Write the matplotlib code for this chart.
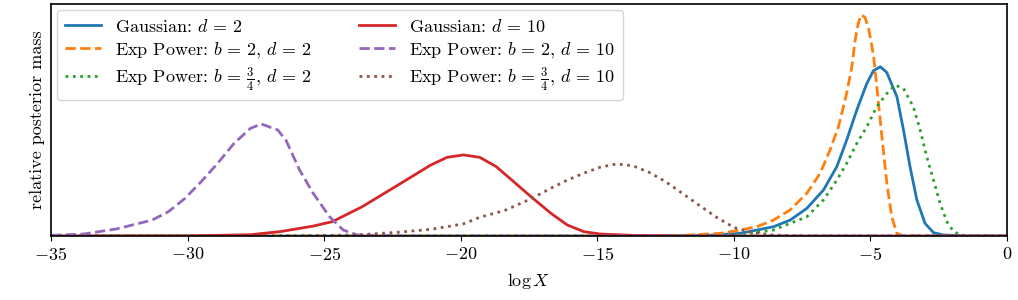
import numpy as np
import matplotlib
matplotlib.use("Agg")
from matplotlib import pyplot as plt

# Computer Modern look
plt.rcParams['font.family'] = 'serif'
plt.rcParams['font.serif'] = ['cmr10']
plt.rcParams['mathtext.fontset'] = 'cm'
plt.rcParams['axes.formatter.use_mathtext'] = True
plt.rcParams['axes.unicode_minus'] = True
plt.rcParams['axes.linewidth'] = 1.2

# values (x = log X, y = relative posterior mass)
gauss2_x = [-35, -13, -11, -9.77, -8.55, -7.94, -7.33, -6.72, -6.23, -5.87, -5.5, -5.13,
            -4.89, -4.64, -4.4, -4.03, -3.79, -3.55, -3.3, -3.0, -2.69, -2.33, -1.5, 0]
gauss2_y = [0, 0, 0.003, 0.012, 0.042, 0.072, 0.125, 0.208, 0.314, 0.434, 0.57, 0.691,
            0.748, 0.766, 0.74, 0.63, 0.48, 0.314, 0.163, 0.057, 0.015, 0.005, 0, 0]

exp2_x = [-35, -14, -12, -10.5, -9.77, -9.16, -8.55, -7.94, -7.33, -6.84, -6.48, -6.17,
          -5.87, -5.68, -5.56, -5.45, -5.35, -5.2, -5.07, -4.89, -4.77, -4.58, -4.4,
          -4.22, -4.03, -3.8, 0]
exp2_y = [0, 0, 0.002, 0.012, 0.027, 0.042, 0.072, 0.118, 0.193, 0.284, 0.389, 0.495,
          0.646, 0.766, 0.887, 0.96, 1.0, 0.99, 0.94, 0.82, 0.68, 0.45, 0.24,
          0.087, 0.012, 0, 0]

exp34_x = [-35, -12, -9.77, -8.55, -7.94, -7.33, -6.72, -6.23, -5.87, -5.5, -5.13, -4.77,
           -4.4, -4.1, -3.79, -3.43, -3.18, -2.94, -2.69, -2.45, -2.2, -1.96, -1.71,
           -1.3, 0]
exp34_y = [0, 0, 0.005, 0.027, 0.057, 0.087, 0.163, 0.253, 0.329, 0.419, 0.495, 0.585,
           0.645, 0.683, 0.668, 0.585, 0.48, 0.359, 0.253, 0.148, 0.065, 0.02, 0.005,
           0, 0]

gauss10_x = [-35, -30, -27.7, -26.6, -25.4, -24.7, -23.6, -23.0, -22.0, -21.1, -20.5,
             -19.9, -19.3, -18.7, -18.1, -17.4, -16.7, -16.1, -15.5, -14.9, -13.7, -12, 0]
gauss10_y = [0, 0.0005, 0.006, 0.02, 0.045, 0.065, 0.133, 0.178, 0.253, 0.321, 0.356,
             0.367, 0.356, 0.314, 0.25, 0.175, 0.103, 0.05, 0.02, 0.009, 0.003, 0, 0]

exp2_10_x = [-35, -33.8, -32.6, -31.3, -30.7, -30.1, -29.5, -28.9, -28.3, -27.7, -27.3,
             -26.7, -26.4, -25.9, -25.4, -24.8, -24.3, -23.8, -22, 0]
exp2_10_y = [0.003, 0.009, 0.032, 0.072, 0.11, 0.17, 0.246, 0.329, 0.419, 0.487, 0.507,
             0.48, 0.434, 0.299, 0.193, 0.087, 0.027, 0.005, 0, 0]

exp34_10_x = [-35, -26, -23.8, -22.3, -21.1, -19.9, -19.3, -18.4, -17.4, -16.7, -16.1,
              -15.5, -14.9, -14.3, -13.7, -13.1, -12.5, -11.85, -11.2, -10.6, -10.0,
              -9.5, -8.7, -7.5, 0]
exp34_10_y = [0, 0, 0.005, 0.017, 0.03, 0.055, 0.085, 0.115, 0.17, 0.216, 0.253,
              0.284, 0.311, 0.326, 0.318, 0.288, 0.246, 0.19, 0.133, 0.082, 0.039,
              0.02, 0.005, 0, 0]

fig = plt.figure(figsize=(10.18, 3.0), dpi=100)
ax = fig.add_axes([0.0501, 0.2133, 0.9391, 0.7734])

lw = 2.0
eq = r'\,=\,'
ax.plot(gauss2_x, gauss2_y, color='C0', lw=lw, label='Gaussian: $d' + eq + '2$')
ax.plot(exp2_x, exp2_y, color='C1', lw=lw, ls='--',
        label='Exp Power: $b' + eq + '2$, $d' + eq + '2$')
ax.plot(exp34_x, exp34_y, color='C2', lw=lw, ls=':',
        label='Exp Power: $b' + eq + r'\frac{3}{4}$, $d' + eq + '2$')
ax.plot(gauss10_x, gauss10_y, color='C3', lw=lw, label='Gaussian: $d' + eq + '10$')
ax.plot(exp2_10_x, exp2_10_y, color='C4', lw=lw, ls='--',
        label='Exp Power: $b' + eq + '2$, $d' + eq + '10$')
ax.plot(exp34_10_x, exp34_10_y, color='C5', lw=lw, ls=':',
        label='Exp Power: $b' + eq + r'\frac{3}{4}$, $d' + eq + '10$')

ax.set_xlim(-35, 0)
ax.set_ylim(0, 1.05)
ax.set_yticks([])
ax.set_xticks(np.arange(-35, 1, 5))
ax.tick_params(axis='x', labelsize=13)
ax.set_xlabel(r'$\log X$', fontsize=13, labelpad=6)
ax.set_ylabel('relative posterior mass', fontsize=13)

ax.legend(loc='upper left', ncol=2, fontsize=13, columnspacing=2.6,
          borderaxespad=0.35, labelspacing=0.3)

fig.savefig('out.png', dpi=100)
